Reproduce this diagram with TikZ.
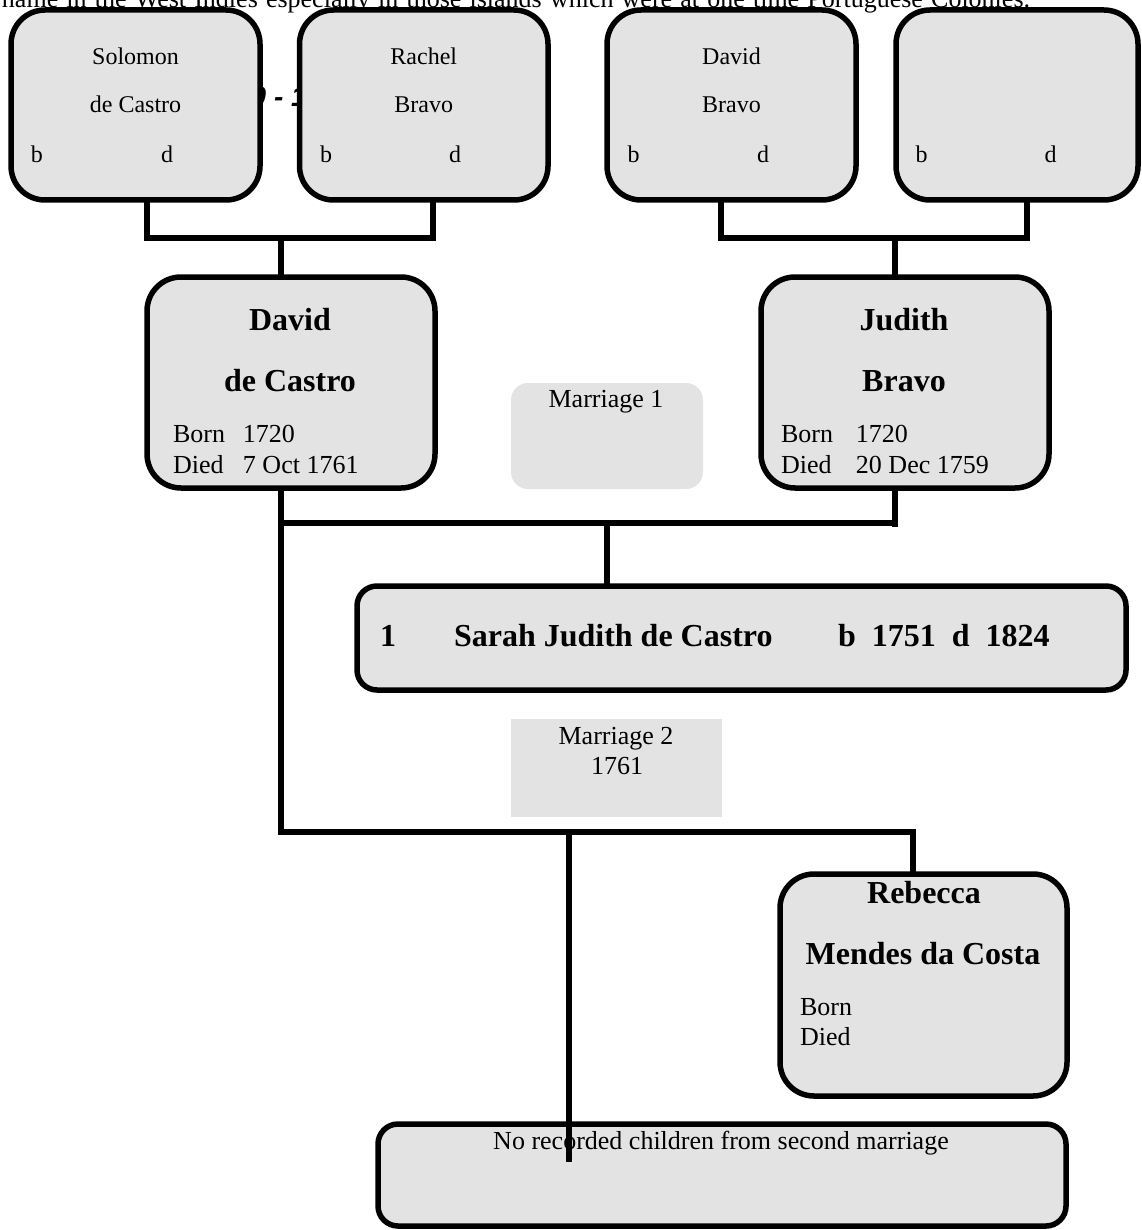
\documentclass[tikz,border=0pt]{standalone}
\usepackage{fontspec}
\setmainfont{Liberation Serif}
\newfontfamily\headfont{Liberation Sans}
\definecolor{boxgray}{RGB}{227,227,227}
\newcommand\topfnt{\fontsize{12}{14.4}\selectfont}
\newcommand\bodyfnt{\fontsize{13}{15.6}\selectfont}
\newcommand\namefnt{\fontsize{16}{19.2}\selectfont\bfseries}

\begin{document}
\begin{tikzpicture}[x=0.5pt,y=-0.5pt,
  every node/.style={inner sep=0pt, outer sep=0pt},
  card/.style={draw=black, line width=2.75pt, fill=boxgray, rounded corners=17pt},
  cardS/.style={draw=black, line width=2.75pt, fill=boxgray, rounded corners=10pt},
  tag/.style={fill=boxgray, rounded corners=8.5pt},
  plaintag/.style={fill=boxgray},
  link/.style={line width=2.75pt, line join=miter},
  lt/.style={anchor=base west},
  ct/.style={anchor=base}
]
\useasboundingbox (0,0) rectangle (1141,1230);
\clip (0,0) rectangle (1141,1230);

% running text of the page above the chart
\node[lt, font=\bodyfnt] (intro) at (2,7.5)
  {\makebox[514pt][s]{name in the West Indies especially in those islands which were at one time Portuguese Colonies.}};
% heading that sits behind the first row of cards
\node[lt, font=\headfont\fontsize{14}{16}\selectfont\bfseries\itshape] (span) at (204,107) {1720 - 1761};

% ---- grandparents ----
\node[card, minimum width=124.5pt,  minimum height=95pt] (pS)  at (135.5,105) {};
\node[card, minimum width=124.25pt, minimum height=95pt] (pR)  at (423.75,105) {};
\node[card, minimum width=124.5pt,  minimum height=95pt] (pDB) at (731.5,105) {};
\node[card, minimum width=121pt,    minimum height=95pt] (pU)  at (1017,105) {};

\node[ct, font=\topfnt] (sA) at (135.5,65) {Solomon};
\node[ct, font=\topfnt] (sB) at (135.5,113) {de Castro};
\node[lt, font=\topfnt] (sb) at (31,163) {b};
\node[lt, font=\topfnt] (sd) at (161,163) {d};

\node[ct, font=\topfnt] (rA) at (423.75,65) {Rachel};
\node[ct, font=\topfnt] (rB) at (423.75,113) {Bravo};
\node[lt, font=\topfnt] (rb) at (320,163) {b};
\node[lt, font=\topfnt] (rd) at (449,163) {d};

\node[ct, font=\topfnt] (dbA) at (731.5,65) {David};
\node[ct, font=\topfnt] (dbB) at (731.5,113) {Bravo};
\node[lt, font=\topfnt] (dbb) at (627.5,163) {b};
\node[lt, font=\topfnt] (dbd) at (757,163) {d};

\node[lt, font=\topfnt] (ub) at (915.5,163) {b};
\node[lt, font=\topfnt] (ud) at (1044.5,163) {d};

% ---- parents ----
\node[card, minimum width=144pt, minimum height=105.5pt] (pDC) at (291,382.5) {};
\node[ct, font=\namefnt] (dcA) at (290,330) {David};
\node[ct, font=\namefnt] (dcB) at (290,391) {de Castro};
\node[lt, font=\bodyfnt] (dcBorn) at (173,442) {\makebox[35pt][l]{Born}1720};
\node[lt, font=\bodyfnt] (dcDied) at (173,473) {\makebox[35pt][l]{Died}7 Oct 1761};

\node[card, minimum width=144pt, minimum height=105.5pt] (pJB) at (905,382.5) {};
\node[ct, font=\namefnt] (jbA) at (904,330) {Judith};
\node[ct, font=\namefnt] (jbB) at (904,391) {Bravo};
\node[lt, font=\bodyfnt] (jbBorn) at (781,442) {\makebox[37.5pt][l]{Born}1720};
\node[lt, font=\bodyfnt] (jbDied) at (781,473) {\makebox[37.5pt][l]{Died}20 Dec 1759};

\node[tag, minimum width=96pt, minimum height=53pt] (m1) at (607,436) {};
\node[ct, font=\bodyfnt] (m1t) at (606,407) {Marriage 1};

% ---- child of the first marriage ----
\node[cardS, minimum width=384.5pt, minimum height=52pt] (pSJ) at (741.5,638) {};
\node[lt, font=\namefnt] (sjN) at (380,646) {1};
\node[lt, font=\namefnt] (sjA) at (454,646) {Sarah Judith de Castro};
\node[lt, font=\namefnt] (sjB) at (838,646) {b\ \ 1751\ \ d\ \ 1824};

% ---- second marriage ----
\node[plaintag, minimum width=105.5pt, minimum height=49pt] (m2) at (616.5,768) {};
\node[ct, font=\bodyfnt] (m2a) at (616,744) {Marriage 2};
\node[ct, font=\bodyfnt] (m2b) at (617,774) {1761};

\node[card, minimum width=143.5pt, minimum height=111pt] (pRM) at (923.5,985) {};
\node[ct, font=\namefnt] (rmA) at (924,903) {Rebecca};
\node[ct, font=\namefnt] (rmB) at (923,964) {Mendes da Costa};
\node[lt, font=\bodyfnt] (rmBorn) at (800,1015) {Born};
\node[lt, font=\bodyfnt] (rmDied) at (800,1045) {Died};

\node[cardS, minimum width=344pt, minimum height=51pt] (nr) at (722,1175) {};

% ---- junction points ----
\coordinate (jS)  at (147,238);
\coordinate (jR)  at (433,238);
\coordinate (jDC) at (281,238);
\coordinate (jDB) at (721,238);
\coordinate (jU)  at (1027,238);
\coordinate (jJB) at (895,238);
\coordinate (k1)  at (281,523);
\coordinate (k2)  at (895,523);
\coordinate (kSJ) at (607,523);
\coordinate (k3)  at (281,832);
\coordinate (kRM) at (913,832);
\coordinate (kNR) at (569,832);
\coordinate (nrEnd) at (569,1162);

% ---- connectors ----
\draw[link] (pS.south -| jS) -- (jS) -- (jR) -- (pR.south -| jR);
\draw[link] (jDC) -- (pDC.north -| jDC);
\draw[link] (pDB.south -| jDB) -- (jDB) -- (jU) -- (pU.south -| jU);
\draw[link] (jJB) -- (pJB.north -| jJB);
\draw[link] (pDC.south -| k1) -- (k3) -- (kRM) -- (pRM.north -| kRM);
\draw[link] (k1) -- (k2);
\draw[link] (pJB.south -| k2) -- ([yshift=-2pt]k2);
\draw[link] (kSJ) -- (pSJ.north -| kSJ);
\draw[link] (kNR) -- (nrEnd);

% caption of the last card, set over the line that runs into it
\node[ct, font=\bodyfnt] (nrt) at (721,1149) {No recorded children from second marriage};
\end{tikzpicture}
\end{document}
